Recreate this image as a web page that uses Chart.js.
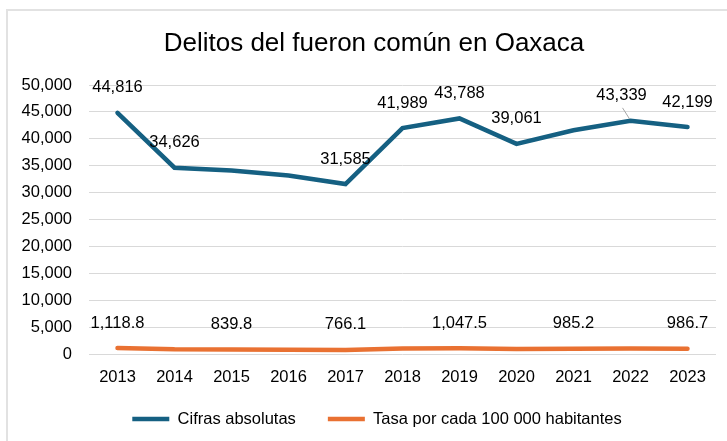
<!DOCTYPE html>
<html><head><meta charset="utf-8">
<script src="https://cdn.jsdelivr.net/npm/chart.js@4.4.1/dist/chart.umd.min.js"></script>
<style>
html,body{margin:0;padding:0;background:#fff;overflow:hidden;width:727px;height:441px}
#wrap{position:relative;width:727px;height:441px;overflow:hidden}
#frame{position:absolute;left:6px;top:9px;width:800px;height:600px;border:2px solid #E2E2E2;box-sizing:border-box}
canvas{position:absolute;left:0;top:0}
</style></head><body>
<div id="wrap"><div id="frame"></div><canvas id="c" width="727" height="441"></canvas></div>
<script>
const years = ['2013','2014','2015','2016','2017','2018','2019','2020','2021','2022','2023'];
const cifras = [44816, 34626, 34090, 33160, 31585, 41989, 43788, 39061, 41600, 43339, 42199];
const tasa = [1118.8, 862.0, 839.8, 800.0, 766.1, 1015.0, 1047.5, 930.0, 985.2, 1012.0, 986.7];
const cifrasLabeled = [true, true, false, false, true, true, true, true, false, true, true];
const tasaLabeled = [true, false, true, false, true, false, true, false, true, false, true];
const yTickValues = [0, 5000, 10000, 15000, 20000, 25000, 30000, 35000, 40000, 45000, 50000];
const seriesNames = ['Cifras absolutas', 'Tasa por cada 100 000 habitantes'];
const titleText = 'Delitos del fueron común en Oaxaca';

const FONT = '"Liberation Sans", Arial, sans-serif';
const fmtInt = v => v.toLocaleString('en-US', {maximumFractionDigits: 0});
const fmtDec = v => v.toLocaleString('en-US', {minimumFractionDigits: 1, maximumFractionDigits: 1});

const LEGEND_PAD = 32, LEGEND_FS = 16.5;

const pointLabels = {
  id: 'pointLabels',
  afterLayout(chart, args, opts) {
    const lg = chart.legend;
    if (lg) {
      const h = lg.height;
      lg.top = opts.legendCenterY - LEGEND_PAD - LEGEND_FS / 2;
      lg.bottom = lg.top + h;
      lg.left += opts.legendShiftX; lg.right += opts.legendShiftX;
    }
    const t = chart.titleBlock;
    if (t) { t.left += opts.titleShiftX; t.right += opts.titleShiftX; }
  },
  afterDatasetsDraw(chart, args, opts) {
    const ctx = chart.ctx;
    const xs = chart.scales.x, ys = chart.scales.y;
    ctx.save();
    ctx.font = opts.size + 'px ' + FONT;
    ctx.fillStyle = opts.color;
    ctx.textAlign = 'center';
    ctx.textBaseline = 'middle';
    chart.data.datasets.forEach((ds, di) => {
      ds.data.forEach((v, i) => {
        if (!ds.labeled[i]) return;
        const px = xs.getPixelForValue(i);
        const py = ys.getPixelForValue(v);
        const adj = (opts.adjust[di] || {})[i] || {dx: 0, leader: false};
        const lx = px + adj.dx, ly = py - opts.lift;
        if (adj.leader) {
          ctx.save();
          ctx.strokeStyle = '#A6A6A6';
          ctx.lineWidth = 1;
          ctx.beginPath();
          ctx.moveTo(lx + 1, ly + 12);
          ctx.lineTo(px - 1, py - 2);
          ctx.stroke();
          ctx.restore();
        }
        ctx.fillText(ds.fmt(v), lx, ly);
      });
    });
    ctx.restore();
  }
};

new Chart(document.getElementById('c'), {
  type: 'line',
  data: {
    labels: years,
    datasets: [
      {label: seriesNames[0], data: cifras, labeled: cifrasLabeled, fmt: fmtInt,
       borderColor: '#156082', backgroundColor: '#156082', borderWidth: 4.5,
       borderCapStyle: 'round', pointRadius: 0, pointStyle: 'line', tension: 0},
      {label: seriesNames[1], data: tasa, labeled: tasaLabeled, fmt: fmtDec,
       borderColor: '#E97132', backgroundColor: '#E97132', borderWidth: 4.5,
       borderCapStyle: 'round', pointRadius: 0, pointStyle: 'line', tension: 0}
    ]
  },
  options: {
    responsive: false,
    animation: false,
    events: [],
    layout: {padding: {left: 0, right: 11, top: 0, bottom: -7.5}},
    scales: {
      x: {
        offset: true,
        grid: {display: false, drawTicks: false},
        border: {display: false},
        ticks: {color: '#000', padding: 14, font: {family: FONT, size: 16.5}, maxRotation: 0, autoSkip: false},
        afterFit(s) { s.height = 36; }
      },
      y: {
        min: 0, max: 50000,
        afterBuildTicks(s) { s.ticks = yTickValues.map(v => ({value: v})); },
        grid: {color: '#D9D9D9', lineWidth: 1, drawTicks: false},
        border: {display: false},
        ticks: {color: '#000', padding: 17, font: {family: FONT, size: 16.5}, callback: v => fmtInt(v)},
        afterFit(s) { s.width = 89; }
      }
    },
    plugins: {
      title: {display: true, text: titleText, color: '#000',
              font: {family: FONT, size: 26, weight: 'normal'}, padding: {top: 28, bottom: 25.8}},
      legend: {position: 'bottom',
               labels: {usePointStyle: true, pointStyleWidth: 37, padding: LEGEND_PAD, color: '#000',
                        font: {family: FONT, size: LEGEND_FS}}},
      tooltip: {enabled: false},
      pointLabels: {size: 16.5, color: '#000', lift: 25, legendCenterY: 419, legendShiftX: 19, titleShiftX: 16,
                    adjust: {0: {9: {dx: -9, leader: true}}}}
    }
  },
  plugins: [pointLabels]
});
</script>
</body></html>
